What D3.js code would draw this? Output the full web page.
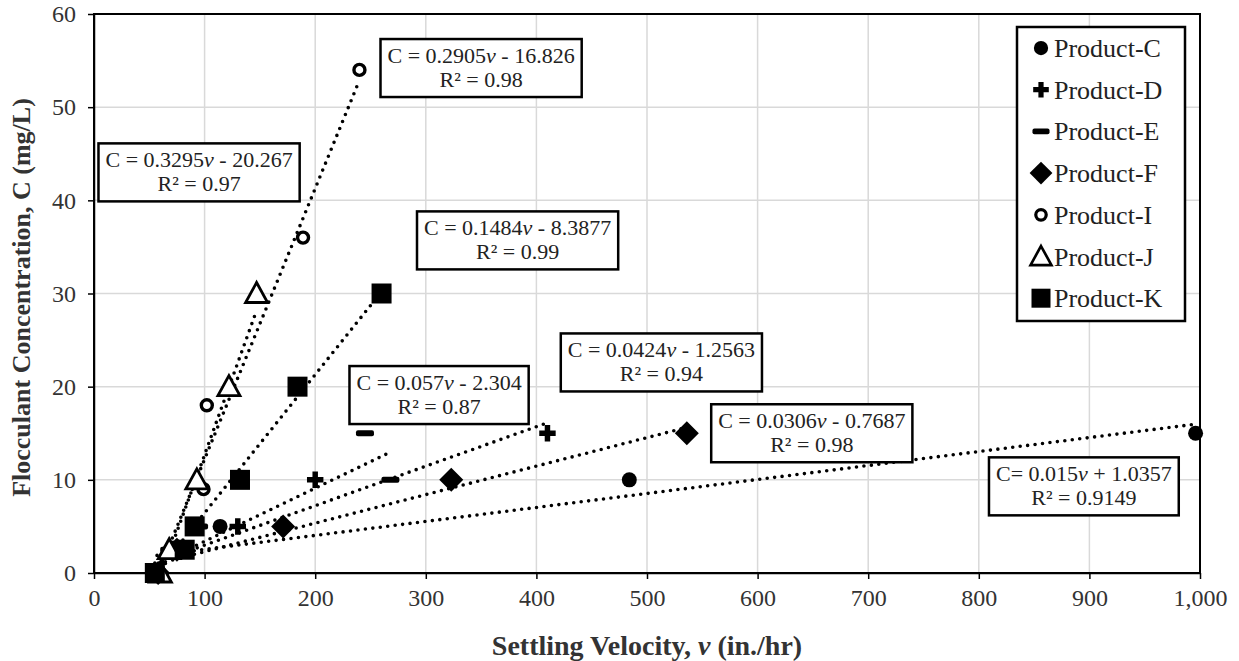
<!DOCTYPE html>
<html lang="en">
<head>
  <meta charset="UTF-8">
  <title>Flocculant Concentration vs Settling Velocity</title>
  <script src="https://d3js.org/d3.v7.min.js"></script>
  <style>
    body { margin: 0; background: #fff; }
    svg { display: block; font-family: "Liberation Serif", "Times New Roman", serif; }
    .grid line { stroke: #d9d9d9; stroke-width: 1.5; }
    .axis text { font-size: 24px; fill: #333; font-family: "Liberation Serif", serif; }
    .axis path, .axis line { stroke: #000; stroke-width: 1.5; }
    .trend { fill: none; stroke: #000; stroke-width: 3.6; stroke-linecap: round; stroke-dasharray: 0 7.5; }
    .eqbox rect { fill: #fff; stroke: #000; stroke-width: 2.5; }
    .eqbox text { font-size: 22px; fill: #222; text-anchor: middle; }
  </style>
</head>
<body>
<svg id="chart" width="1239" height="661"></svg>
<script>
  // series names (legend order)
  const products = ["Product-C", "Product-D", "Product-E", "Product-F", "Product-I", "Product-J", "Product-K"];

  // settling velocity (in./hr) and concentration (mg/L) for each product
  const velC = [57, 72, 114, 484, 996];
  const concC = [0, 2.5, 5, 10, 15];
  const velD = [55, 70, 130, 200, 410];
  const concD = [0, 2.5, 5, 10, 15];
  const velE = [56, 68, 95, 268, 245];
  const concE = [0, 2.5, 5, 10, 15];
  const velF = [58, 75, 171, 323, 536];
  const concF = [0, 2.5, 5, 10, 15];
  const velI = [58, 99, 102, 189, 240];
  const concI = [0, 9, 18, 36, 54];
  const velJ = [60, 68, 93, 122, 147];
  const concJ = [0, 2.5, 10, 20, 30];
  const velK = [55, 82, 91, 132, 184, 260];
  const concK = [0, 2.5, 5, 10, 20, 30];

  // linear trendlines as printed on the chart
  const slopes = [0.015, 0.0424, 0.057, 0.0306, 0.2905, 0.3295, 0.1484];
  const intercepts = [1.0357, -1.2563, -2.304, -0.7687, -16.826, -20.267, -8.3877];
  const eqLeft = ["C= 0.015", "C = 0.0424", "C = 0.057", "C = 0.0306", "C = 0.2905", "C = 0.3295", "C = 0.1484"];
  const eqRight = [" + 1.0357", " - 1.2563", " - 2.304", " - 0.7687", " - 16.826", " - 20.267", " - 8.3877"];
  const r2Labels = ["R² = 0.9149", "R² = 0.94", "R² = 0.87", "R² = 0.98", "R² = 0.98", "R² = 0.97", "R² = 0.99"];

  // x / y tick values
  const xTicks = [0, 100, 200, 300, 400, 500, 600, 700, 800, 900, 1000];
  const yTicks = [0, 10, 20, 30, 40, 50, 60];

  const vels = [velC, velD, velE, velF, velI, velJ, velK];
  const concs = [concC, concD, concE, concF, concI, concJ, concK];
  const series = products.map((name, i) => ({
    name,
    points: vels[i].map((v, j) => ({ v, c: concs[i][j] })),
    slope: slopes[i],
    intercept: intercepts[i]
  }));

  // where each equation box sits (data units of the box centre)
  const eqAnchor = [[895, 9.3], [513, 22.6], [312, 19.1], [649, 15], [350, 54.2], [95, 43], [383, 35.7]];

  const svg = d3.select("#chart");
  const x = d3.scaleLinear().domain([0, 1000]).range([94, 1200]);
  const y = d3.scaleLinear().domain([0, 60]).range([573, 14]);

  // gridlines
  const grid = svg.append("g").attr("class", "grid");
  grid.selectAll(".gx").data(xTicks.slice(1, -1)).join("line")
    .attr("x1", d => x(d)).attr("x2", d => x(d)).attr("y1", y(0)).attr("y2", y(60));
  grid.selectAll(".gy").data(yTicks.slice(1, -1)).join("line")
    .attr("x1", x(0)).attr("x2", x(1000)).attr("y1", d => y(d)).attr("y2", d => y(d));

  // axes
  svg.append("g").attr("class", "axis")
    .attr("transform", `translate(0,${y(0)})`)
    .call(d3.axisBottom(x).tickValues(xTicks).tickSize(6).tickSizeOuter(0).tickPadding(10).tickFormat(d3.format(",")));
  svg.append("g").attr("class", "axis")
    .attr("transform", `translate(${x(0)},0)`)
    .call(d3.axisLeft(y).tickValues(yTicks).tickSize(6).tickSizeOuter(0).tickPadding(12));

  // plot frame
  svg.append("rect")
    .attr("x", x(0)).attr("y", y(60))
    .attr("width", x(1000) - x(0)).attr("height", y(0) - y(60))
    .attr("fill", "none").attr("stroke", "#000").attr("stroke-width", 2);

  // trendlines
  svg.append("g").selectAll("line").data(series).join("line")
    .attr("class", "trend")
    .attr("x1", d => x(d3.min(d.points, p => p.v)))
    .attr("y1", d => y(d.slope * d3.min(d.points, p => p.v) + d.intercept))
    .attr("x2", d => x(d3.max(d.points, p => p.v)))
    .attr("y2", d => y(d.slope * d3.max(d.points, p => p.v) + d.intercept));

  // marker drawing
  function drawMarker(g, name, s) {
    s = s || 1;
    if (name === "Product-C") {
      g.append("circle").attr("r", 7.5 * s).attr("fill", "#000");
    } else if (name === "Product-D") {
      g.append("path").attr("d", d3.symbol(d3.symbolCross, 150 * s * s)).attr("fill", "#000");
    } else if (name === "Product-E") {
      g.append("rect").attr("x", -9 * s).attr("y", -3 * s).attr("width", 18 * s).attr("height", 6 * s)
        .attr("rx", 2).attr("fill", "#000");
    } else if (name === "Product-F") {
      g.append("path").attr("d", `M0,${-12 * s}L${12 * s},0L0,${12 * s}L${-12 * s},0Z`).attr("fill", "#000");
    } else if (name === "Product-I") {
      g.append("circle").attr("r", 5.5 * s).attr("fill", "#fff").attr("stroke", "#000").attr("stroke-width", 3.4 * s);
    } else if (name === "Product-J") {
      g.append("path").attr("d", `M0,${-11 * s}L${11 * s},${9 * s}L${-11 * s},${9 * s}Z`)
        .attr("fill", "#fff").attr("stroke", "#000").attr("stroke-width", 2.8 * s).attr("stroke-linejoin", "miter");
    } else if (name === "Product-K") {
      g.append("rect").attr("x", -10 * s).attr("y", -10 * s).attr("width", 20 * s).attr("height", 20 * s).attr("fill", "#000");
    }
  }

  // points
  series.forEach(sr => {
    const g = svg.append("g");
    sr.points.forEach(p => {
      const m = g.append("g").attr("transform", `translate(${x(p.v)},${y(p.c)})`);
      drawMarker(m, sr.name);
    });
  });

  // equation boxes
  series.forEach((sr, i) => {
    const g = svg.append("g").attr("class", "eqbox")
      .attr("transform", `translate(${x(eqAnchor[i][0])},${y(eqAnchor[i][1])})`);
    const rect = g.append("rect");
    const t1 = g.append("text").attr("y", -5);
    t1.append("tspan").text(eqLeft[i]);
    t1.append("tspan").attr("font-style", "italic").text("v");
    t1.append("tspan").text(eqRight[i]);
    const t2 = g.append("text").attr("y", 19).text(r2Labels[i]);
    const w = Math.max(t1.node().getBBox().width, t2.node().getBBox().width) + 14;
    rect.attr("x", -w / 2).attr("y", -29).attr("width", w).attr("height", 58);
  });

  // legend
  const legend = svg.append("g").attr("transform", "translate(1017,27)");
  legend.append("rect").attr("width", 168).attr("height", 294)
    .attr("fill", "#fff").attr("stroke", "#000").attr("stroke-width", 2.5);
  products.forEach((name, i) => {
    const row = legend.append("g").attr("transform", `translate(0,${21 + i * 41.7})`);
    drawMarker(row.append("g").attr("transform", "translate(24,0)"), name, 0.95);
    row.append("text").attr("x", 37).attr("y", 9).attr("font-size", 26).attr("fill", "#222").text(name);
  });

  // axis titles
  const xt = svg.append("text").attr("x", 647).attr("y", 655).attr("text-anchor", "middle")
    .attr("font-size", 28).attr("font-weight", "bold").attr("fill", "#333");
  xt.append("tspan").text("Settling Velocity, ");
  xt.append("tspan").attr("font-style", "italic").text("v");
  xt.append("tspan").text(" (in./hr)");

  svg.append("text").attr("transform", `translate(30,${(y(0) + y(60)) / 2 + 4}) rotate(-90)`)
    .attr("text-anchor", "middle").attr("font-size", 26).attr("font-weight", "bold").attr("fill", "#333")
    .text("Flocculant Concentration, C (mg/L)");
</script>
</body>
</html>
